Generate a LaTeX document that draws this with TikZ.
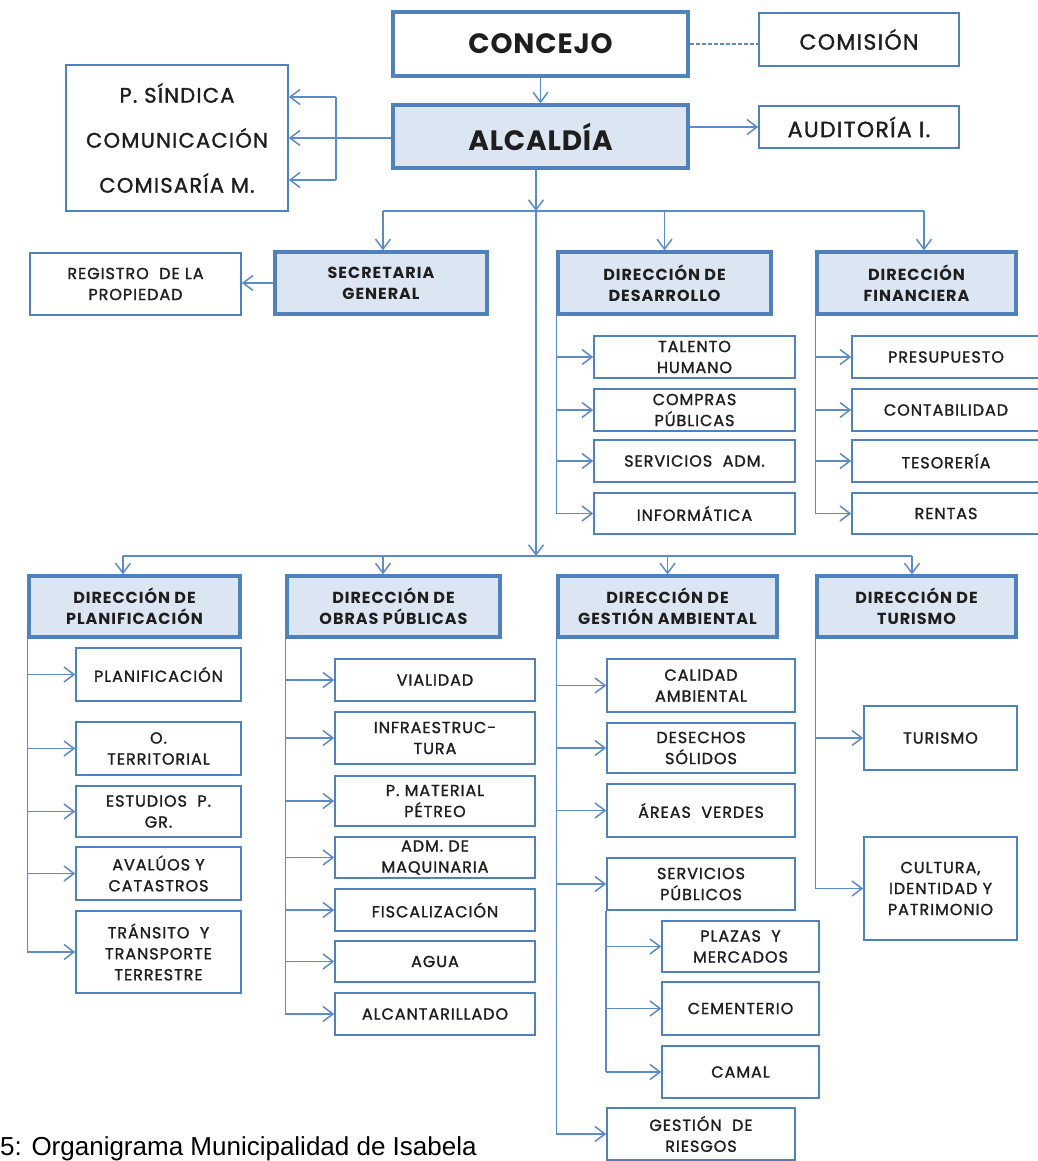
\documentclass[tikz,border=0pt]{standalone}
\usepackage{fontspec}
\setmainfont{Poppins}[LetterSpace=6]
\newfontfamily\unitfont{Poppins}[LetterSpace=6, FakeBold=1.4]
\newfontfamily\capfont{Liberation Sans}
\usetikzlibrary{arrows.meta}
\definecolor{bord}{HTML}{4F81BD}
\definecolor{linec}{HTML}{5B8BC8}
\definecolor{headfill}{HTML}{DCE6F2}
\definecolor{txt}{HTML}{1E1E1E}

\begin{document}
\begin{tikzpicture}[x=1pt,y=-1pt,
  every node/.style={inner sep=0pt, text=txt},
  sz/.style 2 args={minimum width=#1pt, minimum height=#2pt},
  base/.style={draw=bord, rectangle, align=center},
  unit/.style={base, line width=1.6pt, fill=white, font=\unitfont\fontsize{16}{21}\selectfont},
  head/.style={base, line width=3.2pt, fill=headfill, font=\bfseries\fontsize{16}{21}\selectfont},
  toplvl/.style={base, line width=3.2pt, font=\bfseries\fontsize{28}{30}\selectfont\addfontfeature{LetterSpace=3}},
  side/.style={base, line width=1.6pt, fill=white, font=\unitfont\fontsize{22}{24}\selectfont},
  sidetext/.style={font=\unitfont\fontsize{21}{24}\selectfont},
  link/.style={draw=linec, line width=1.5pt},
  arr/.style={link, -{Straight Barb[length=10pt,width=15pt,line width=1.5pt]}},
]
\useasboundingbox (0,0) rectangle (1037,1161);
\fill[white] (0,0) rectangle (1037,1161);

% ---------- top level ----------
\node[toplvl, fill=white, sz={295}{64}] (concejo) at (540.5,44) {CONCEJO};
\node[side, sz={200}{53}] (comision) at (859,39.5) {COMISIÓN};
\node[toplvl, fill=headfill, sz={295}{63}] (alcaldia) at (540.5,136.5) {ALCALDÍA};
\node[side, sz={200}{42}] (auditoria) at (859,127) {AUDITORÍA I.};
\node[side, sz={222}{146}] (staff) at (177,138) {};
\node[sidetext] (sindica) at (177,93) {P. SÍNDICA};
\node[sidetext] (comunic) at (177,138) {COMUNICACIÓN};
\node[sidetext] (comisaria) at (177,183) {COMISARÍA M.};

\draw[link, dash pattern=on 4pt off 2pt, draw=linec!80!gray] (concejo.east) -- (comision.west |- concejo.east);
\draw[arr] (concejo.south) -- (alcaldia.north);
\draw[arr] (alcaldia.east |- auditoria.west) -- (auditoria.west);
\draw[arr] (alcaldia.west |- staff.east) -- (staff.east);
\coordinate (brtop) at (336,97);
\coordinate (brbot) at (336,180);
\draw[link] (brtop) -- (brbot);
\draw[arr] (brtop) -- (staff.east |- brtop);
\draw[arr] (brbot) -- (staff.east |- brbot);

% ---------- first row of directions ----------
\node[head, sz={212}{62}] (secretaria) at (381,283) {SECRETARIA\\GENERAL};
\node[unit, sz={211}{62}] (registro) at (135.5,284) {REGISTRO \ DE LA\\PROPIEDAD};
\node[head, sz={213}{62}] (desarrollo) at (664.5,283) {DIRECCIÓN DE\\DESARROLLO};
\node[head, sz={199}{62}] (financiera) at (916.5,283) {DIRECCIÓN\\FINANCIERA};

\coordinate (hub1) at (536,211);
\coordinate (hub2) at (536,556);
\coordinate (b1l) at (383,211);
\coordinate (b1r) at (924,211);
\draw[link] (b1l) -- (b1r);
\draw[arr] (alcaldia.south -| hub1) -- (hub1);
\draw[arr] (hub1) -- (hub2);
\draw[arr] (b1l) -- (b1l |- secretaria.north);
\draw[arr] (hub1 -| desarrollo.north) -- (desarrollo.north);
\draw[arr] (b1r) -- (b1r |- financiera.north);
\draw[arr] (secretaria.west) -- (registro.east |- secretaria.west);

% desarrollo units
\node[unit, sz={201}{42}] (talento) at (694.5,357) {TALENTO\\HUMANO};
\node[unit, sz={201}{42}] (compras) at (694.5,410) {COMPRAS\\PÚBLICAS};
\node[unit, sz={201}{42}] (servadm) at (694.5,461) {SERVICIOS \ ADM.};
\node[unit, sz={201}{41}] (informatica) at (694.5,513.5) {INFORMÁTICA};
\draw[link] (desarrollo.south west) -- (desarrollo.south west |- informatica.west);
\foreach \n in {talento,compras,servadm,informatica}
  \draw[arr] (desarrollo.south west |- \n.west) -- (\n.west);

% financiera units
\node[unit, sz={188}{42}] (presupuesto) at (946,357) {PRESUPUESTO};
\node[unit, sz={188}{42}] (contabilidad) at (946,410) {CONTABILIDAD};
\node[unit, sz={188}{42}] (tesoreria) at (946,461) {TESORERÍA};
\node[unit, sz={188}{41}] (rentas) at (946,513.5) {RENTAS};
\draw[link] (financiera.south west) -- (financiera.south west |- rentas.west);
\foreach \n in {presupuesto,contabilidad,tesoreria,rentas}
  \draw[arr] (financiera.south west |- \n.west) -- (\n.west);

% ---------- second row of directions ----------
\node[head, sz={211}{61}] (planif) at (134.5,606.5) {DIRECCIÓN DE\\PLANIFICACIÓN};
\node[head, sz={213}{61}] (obras) at (393.5,606.5) {DIRECCIÓN DE\\OBRAS PÚBLICAS};
\node[head, sz={219}{61}] (gestion) at (667.5,606.5) {DIRECCIÓN DE\\GESTIÓN AMBIENTAL};
\node[head, sz={199}{61}] (turdir) at (916.5,606.5) {DIRECCIÓN DE\\TURISMO};

\coordinate (b2l) at (123,556);
\coordinate (b2o) at (383,556);
\coordinate (b2r) at (912,556);
\draw[link] (b2l) -- (b2r);
\draw[arr] (b2l) -- (b2l |- planif.north);
\draw[arr] (b2o) -- (b2o |- obras.north);
\draw[arr] (hub2 -| gestion.north) -- (gestion.north);
\draw[arr] (b2r) -- (b2r |- turdir.north);

% planificacion units
\node[unit, sz={165}{53}] (planificacion) at (158.5,674.5) {PLANIFICACIÓN};
\node[unit, sz={165}{53}] (oterr) at (158.5,748.5) {O.\\TERRITORIAL};
\node[unit, sz={165}{51}] (estudios) at (158.5,811.5) {ESTUDIOS \ P.\\GR.};
\node[unit, sz={165}{53}] (avaluos) at (158.5,873.5) {AVALÚOS Y\\CATASTROS};
\node[unit, sz={165}{82}] (transito) at (158.5,952) {TRÁNSITO \ Y\\TRANSPORTE\\TERRESTRE};
\draw[link] (planif.south west) -- (planif.south west |- transito.west);
\foreach \n in {planificacion,oterr,estudios,avaluos,transito}
  \draw[arr] (planif.south west |- \n.west) -- (\n.west);

% obras publicas units
\node[unit, sz={200}{42}] (vialidad) at (435,680) {VIALIDAD};
\node[unit, sz={200}{52}] (infra) at (435,738) {INFRAESTRUC-\\TURA};
\node[unit, sz={200}{50}] (petreo) at (435,801) {P. MATERIAL\\PÉTREO};
\node[unit, sz={200}{41}] (maquinaria) at (435,857.5) {ADM. DE\\MAQUINARIA};
\node[unit, sz={200}{42}] (fiscal) at (435,910) {FISCALIZACIÓN};
\node[unit, sz={200}{41}] (agua) at (435,961.5) {AGUA};
\node[unit, sz={200}{42}] (alcant) at (435,1014) {ALCANTARILLADO};
\draw[link] (obras.south west) -- (obras.south west |- alcant.west);
\foreach \n in {vialidad,infra,petreo,maquinaria,fiscal,agua,alcant}
  \draw[arr] (obras.south west |- \n.west) -- (\n.west);

% gestion ambiental units
\node[unit, sz={188}{53}] (calidad) at (701,685.5) {CALIDAD\\AMBIENTAL};
\node[unit, sz={188}{50}] (desechos) at (701,748) {DESECHOS\\SÓLIDOS};
\node[unit, sz={188}{53}] (areas) at (701,810.5) {ÁREAS \ VERDES};
\node[unit, sz={188}{52}] (servpub) at (701,884) {SERVICIOS\\PÚBLICOS};
\node[unit, sz={188}{52}] (riesgos) at (701,1134) {GESTIÓN \ DE\\RIESGOS};
\draw[link] (gestion.south west) -- (gestion.south west |- riesgos.west);
\foreach \n in {calidad,desechos,areas,servpub,riesgos}
  \draw[arr] (gestion.south west |- \n.west) -- (\n.west);

\node[unit, sz={157}{51}] (plazas) at (740.5,946.5) {PLAZAS \ Y\\MERCADOS};
\node[unit, sz={157}{53}] (cementerio) at (740.5,1008.5) {CEMENTERIO};
\node[unit, sz={157}{52}] (camal) at (740.5,1072) {CAMAL};
\draw[link] (servpub.south west) -- (servpub.south west |- camal.west);
\foreach \n in {plazas,cementerio,camal}
  \draw[arr] (servpub.south west |- \n.west) -- (\n.west);

% turismo units
\node[unit, sz={153}{64}] (turismo) at (940.5,738) {TURISMO};
\node[unit, sz={153}{103}] (cultura) at (940.5,888.5) {CULTURA,\\IDENTIDAD Y\\PATRIMONIO};
\draw[link] (turdir.south west) -- (turdir.south west |- cultura.west);
\foreach \n in {turismo,cultura}
  \draw[arr] (turdir.south west |- \n.west) -- (\n.west);

% ---------- caption ----------
\node[anchor=base west, text=black, font=\capfont\fontsize{26}{30}\selectfont] (caption) at (0,1155) {5: Organigrama Municipalidad de Isabela};
\end{tikzpicture}
\end{document}
